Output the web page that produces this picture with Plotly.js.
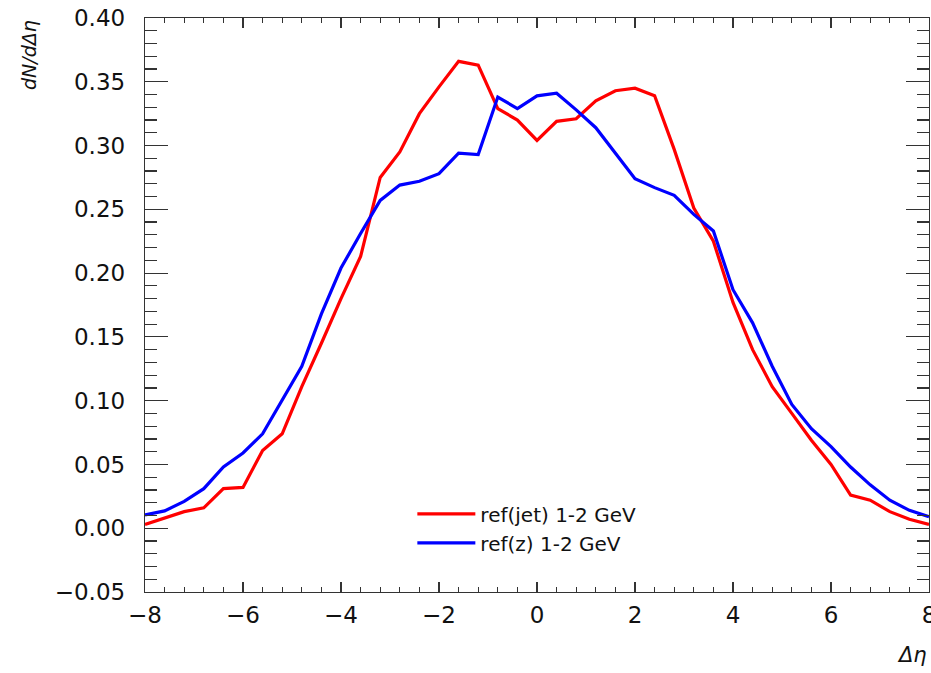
<!DOCTYPE html>
<html>
<head>
<meta charset="utf-8">
<script src="https://cdn.plot.ly/plotly-3.0.1.min.js"></script>
<style>html,body{margin:0;padding:0;background:#fff;}#chart{width:931px;height:673px;}</style>
</head>
<body>
<div id="chart"></div>
<script>
const deltaEta = [-8.0, -7.6, -7.2, -6.8, -6.4, -6.0, -5.6, -5.2, -4.8, -4.4, -4.0, -3.6, -3.2, -2.8, -2.4, -2.0, -1.6, -1.2, -0.8, -0.4, 0.0,
  0.4, 0.8, 1.2, 1.6, 2.0, 2.4, 2.8, 3.2, 3.6, 4.0, 4.4, 4.8, 5.2, 5.6, 6.0, 6.4, 6.8, 7.2, 7.6, 8.0];
const refJet = [0.003, 0.008, 0.013, 0.016, 0.031, 0.032, 0.061, 0.074, 0.111, 0.145, 0.180, 0.213, 0.275, 0.295, 0.325, 0.346, 0.366, 0.363, 0.329, 0.320, 0.304,
  0.319, 0.321, 0.335, 0.343, 0.345, 0.339, 0.297, 0.251, 0.225, 0.177, 0.140, 0.111, 0.090, 0.069, 0.050, 0.026, 0.022, 0.013, 0.007, 0.003];
const refZ = [0.0105, 0.0136, 0.021, 0.031, 0.048, 0.059, 0.074, 0.100, 0.127, 0.168, 0.204, 0.231, 0.257, 0.269, 0.272, 0.278, 0.294, 0.293, 0.338, 0.329, 0.339,
  0.341, 0.328, 0.314, 0.294, 0.274, 0.267, 0.261, 0.246, 0.233, 0.187, 0.161, 0.127, 0.097, 0.078, 0.064, 0.048, 0.034, 0.022, 0.014, 0.009];
const seriesNames = ["ref(jet) 1-2 GeV", "ref(z) 1-2 GeV"];
const xTitle = "Δη";
const yTitle = "dN/dΔη";

const FONT = "DejaVu Sans, Liberation Sans, Arial, sans-serif";

const traces = [
  {x: deltaEta, y: refJet, type: "scatter", mode: "lines", name: seriesNames[0],
   line: {color: "#ff0000", width: 3.2}},
  {x: deltaEta, y: refZ, type: "scatter", mode: "lines", name: seriesNames[1],
   line: {color: "#0000ff", width: 3.2}}
];

const axisCommon = {
  showgrid: false, zeroline: false, showline: true, linecolor: "#333", linewidth: 1.2,
  mirror: "ticks", ticks: "inside", tickcolor: "#333", tickwidth: 1.2,
  tickfont: {family: FONT, size: 23, color: "#111"}
};

const layout = {
  width: 931, height: 673,
  margin: {l: 145, r: 2, t: 18, b: 81},
  paper_bgcolor: "#fff", plot_bgcolor: "#fff",
  showlegend: true,
  legend: {x: 0.341, y: 0.17, xanchor: "left", yanchor: "top", bgcolor: "rgba(0,0,0,0)",
           font: {family: FONT, size: 20, color: "#111"}, itemwidth: 58, tracegroupgap: 0},
  xaxis: Object.assign({}, axisCommon, {
    range: [-8, 8], tick0: -8, dtick: 2, ticklen: 10, ticklabelstandoff: 2, ticklabeloverflow: "allow",
    minor: {dtick: 0.4, tick0: -8, ticks: "inside", ticklen: 5, tickcolor: "#333", tickwidth: 1.2, showgrid: false}
  }),
  yaxis: Object.assign({}, axisCommon, {
    range: [-0.05, 0.40], tick0: -0.05, dtick: 0.05, ticklen: 23, tickformat: ".2f", ticklabelstandoff: 14,
    minor: {dtick: 0.01, tick0: -0.05, ticks: "inside", ticklen: 12, tickcolor: "#333", tickwidth: 1.2, showgrid: false}
  }),
  annotations: [
    {text: "<i>" + xTitle + "</i>", xref: "paper", yref: "paper", x: 1, y: -0.11,
     xanchor: "right", yanchor: "middle", showarrow: false,
     font: {family: FONT, size: 21, color: "#111"}},
    {text: "<i>" + yTitle + "</i>", xref: "paper", yref: "paper", x: -0.148, y: 1,
     xanchor: "center", yanchor: "top", textangle: -90, showarrow: false,
     font: {family: FONT, size: 19, color: "#111"}}
  ]
};

Plotly.newPlot("chart", traces, layout, {displayModeBar: false, staticPlot: true});
</script>
</body>
</html>
